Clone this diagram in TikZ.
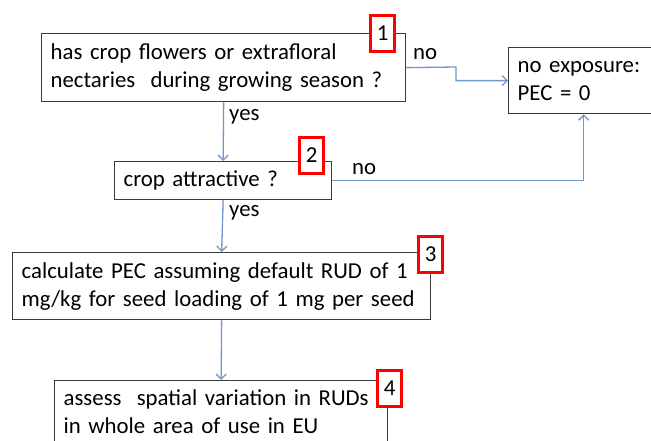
\documentclass[tikz,border=0pt]{standalone}
\usepackage{fontspec}
\setmainfont{Carlito}
\usetikzlibrary{arrows.meta,positioning}
\definecolor{conn}{HTML}{7097C9}
\definecolor{boxline}{HTML}{3A3A3A}
\begin{document}
\begin{tikzpicture}[x=1pt,y=-1pt,
  every node/.style={font=\fontsize{22.8}{28}\selectfont, text=black},
  flowbox/.style={draw=boxline, line width=1.3pt, fill=white, anchor=north west,
    align=left, inner xsep=9pt, inner ysep=0pt, minimum height=#1},
  flowbox/.default=67,
  badge/.style={draw=red, line width=3.2pt, fill=white, anchor=north west,
    minimum width=24pt, minimum height=36pt, inner sep=0pt,
    font=\fontsize{22.8}{24}\selectfont},
  arr/.style={draw=conn, line width=1.3pt, -{Straight Barb[length=5pt,width=10pt,line width=1.3pt]}},
  lab/.style={font=\fontsize{22.8}{24}\selectfont, inner sep=0pt}]
\useasboundingbox (0,0) rectangle (651,441);
\begin{scope}
\clip (0,0) rectangle (651,441);
% boxes
\node[flowbox=68, text width=346, minimum width=364] (b1) at (41,33)
  {has crop flowers or extrafloral\\nectaries\ \ during growing season ?};
\node[flowbox=66, text width=132, minimum width=150] (exp) at (508,47)
  {no exposure:\\PEC = 0};
\node[flowbox=38, text width=199, minimum width=217] (b2) at (114,161)
  {crop attractive ?};
\node[flowbox, text width=400, minimum width=418] (b3) at (12,252)
  {calculate PEC assuming default RUD of 1\\mg/kg for seed loading of 1 mg per seed};
\node[flowbox=62, text width=315, minimum width=333] (b4) at (54,380)
  {assess\ \ spatial variation in RUDs\\in whole area of use in EU};
% connectors
\draw[arr] (b1.south) -- (b2.north);
\draw[arr] (b2.south) -- (b3.north);
\draw[arr] (b3.south) -- (b4.north);
\coordinate (k1) at (456,67);
\draw[arr] (b1.east) -- (k1) |- (exp.west);
\draw[arr] (b2.east) -| (exp.south);
% labels
\node[lab, anchor=base west] (l1) at (413,60) {no};
\node[lab, anchor=base west] (l2) at (229,121) {yes};
\node[lab, anchor=base west] (l3) at (352,175) {no};
\node[lab, anchor=base west] (l4) at (229,217) {yes};
% badges
\node[badge] (n1) at (369,14) {1};
\node[badge] (n2) at (298,136) {2};
\node[badge] (n3) at (417,235) {3};
\node[badge] (n4) at (376,369) {4};
\end{scope}
\end{tikzpicture}
\end{document}
